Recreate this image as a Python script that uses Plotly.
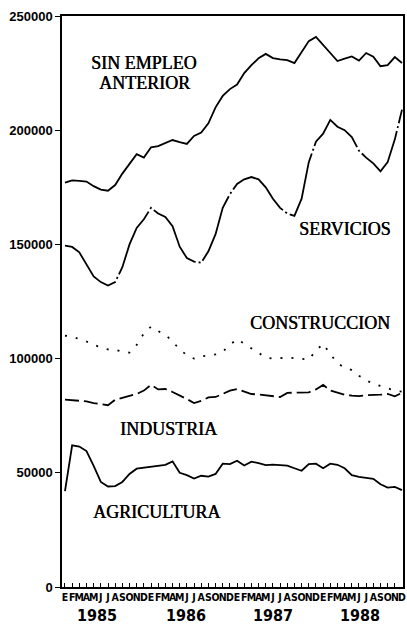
import plotly.graph_objects as go

# Monthly series, January 1985 - December 1988 (48 months)
months = list(range(48))
month_letters = list("EFMAMJJASOND") * 4
years = ["1985", "1986", "1987", "1988"]

sin_empleo = [
    177000, 178000, 177800, 177500, 175500, 174000, 173500, 176000, 181000, 185000, 189500, 188000,
    192500, 193000, 194500, 195700, 194800, 194000, 197500, 199000, 203000, 210000, 215000, 218000,
    220000, 225000, 228500, 231500, 233400, 231600, 231000, 230700, 229400, 234000, 239000, 240800,
    237300, 234000, 230300, 231300, 232300, 230500, 233800, 232200, 228000, 228500, 232000, 229400,
]
servicios = [
    149500, 148900, 146500, 141000, 136000, 133500, 132000, 133500, 140000, 150000, 157200, 161000,
    166000, 163500, 162000, 158000, 149000, 144000, 142500, 142000, 147000, 154500, 166000, 172000,
    176500, 178500, 179500, 178500, 175000, 170000, 166000, 163500, 162500, 170000, 186000, 195000,
    198500, 204500, 201500, 200000, 197000, 191000, 188000, 185500, 182000, 186000, 196000, 209000,
]
construccion = [
    110000, 109700, 108500, 107500, 106000, 105000, 104000, 103900, 103000, 102600, 106000, 111000,
    114000, 112000, 110500, 107500, 104000, 101500, 100000, 101000, 101500, 101800, 103000, 106000,
    108500, 106500, 104500, 102500, 100500, 100000, 100300, 100400, 100200, 100000, 99600, 103500,
    106500, 102000, 98000, 96000, 95000, 92500, 90500, 89000, 88000, 87000, 86000, 85500,
]
industria = [
    82000, 81700, 81500, 81300, 80500, 80000, 79600, 82000, 82800, 83500, 84500, 86000,
    88500, 86500, 86700, 85400, 84000, 82300, 80500, 81500, 83000, 83200, 84500, 86000,
    86700, 85500, 84500, 84300, 84000, 83500, 83200, 85000, 85000, 85000, 85200, 86500,
    88500, 86000, 85000, 84200, 83800, 83600, 84000, 84000, 84200, 84500, 83500, 85000,
]
agricultura = [
    42000, 62000, 61500, 59500, 53000, 46000, 44000, 44200, 46000, 49500, 51800, 52200,
    52500, 53100, 53500, 55000, 50000, 49000, 47500, 48700, 48300, 49500, 54000, 53800,
    55300, 53200, 54900, 54200, 53400, 53600, 53200, 53100, 52000, 50900, 53800, 54000,
    52000, 54000, 53500, 52000, 49000, 48200, 47800, 47400, 45000, 43500, 43800, 42400,
]

y_ticks = [0, 50000, 100000, 150000, 200000, 250000]

ink = "#000000"
fig = go.Figure()

def add_series(values, dash):
    fig.add_trace(go.Scatter(
        x=months, y=values, mode="lines",
        line=dict(color=ink, width=1.8, dash=dash),
        showlegend=False, hoverinfo="skip",
    ))

add_series(sin_empleo, "solid")
add_series(servicios, "70px,3px,2px,3px")
add_series(construccion, "2px,9px")
add_series(industria, "14px,5px")
add_series(agricultura, "solid")

serif = dict(family="Liberation Serif, Times New Roman, serif", size=18, color=ink,
             shadow="0.4px 0 0 #000")
labels = [
    ("SIN EMPLEO", 11.06, 229400),
    ("ANTERIOR", 11.06, 220700),
    ("SERVICIOS", 39.1, 156700),
    ("CONSTRUCCION", 35.5, 115600),
    ("INDUSTRIA", 14.4, 69200),
    ("AGRICULTURA", 12.7, 32800),
]
for text, lx, ly in labels:
    fig.add_annotation(x=lx, y=ly, xref="x", yref="y", text=text, showarrow=False,
                       font=serif, xanchor="center", yanchor="middle")

narrow = "Liberation Sans Narrow, Arial Narrow, DejaVu Sans Condensed, Liberation Sans, sans-serif"
for yr, yx in zip(years, [4.4, 16.9, 29.0, 41.1]):
    fig.add_annotation(x=yx, y=-0.05, xref="x", yref="paper", text=yr, showarrow=False,
                       font=dict(family=narrow, size=16, color=ink, weight="bold"),
                       xanchor="center", yanchor="middle")

fig.update_layout(
    width=407, height=632,
    margin=dict(l=62, r=1, t=16, b=45),
    paper_bgcolor="white", plot_bgcolor="white",
    xaxis=dict(
        range=[-0.415, 47.14], tickmode="array", tickvals=months, ticktext=month_letters,
        ticks="inside", ticklen=4, tickwidth=1.2, tickcolor=ink,
        showline=True, linecolor=ink, linewidth=1.5, mirror=True,
        showgrid=False, zeroline=False,
        tickfont=dict(family=narrow, size=10.5, color=ink, weight="bold"),
        tickangle=0, ticklabeloverflow="allow",
    ),
    yaxis=dict(
        range=[0, 250000], tickmode="array", tickvals=y_ticks,
        ticktext=[str(v) for v in y_ticks],
        ticks="outside", ticklen=5, tickwidth=1.2, tickcolor=ink,
        showline=True, linecolor=ink, linewidth=1.5, mirror=True,
        showgrid=False, zeroline=False,
        tickfont=dict(family="Liberation Sans, Arial, sans-serif", size=13, color=ink, weight="bold"),
    ),
)

fig.write_html("out.html")
